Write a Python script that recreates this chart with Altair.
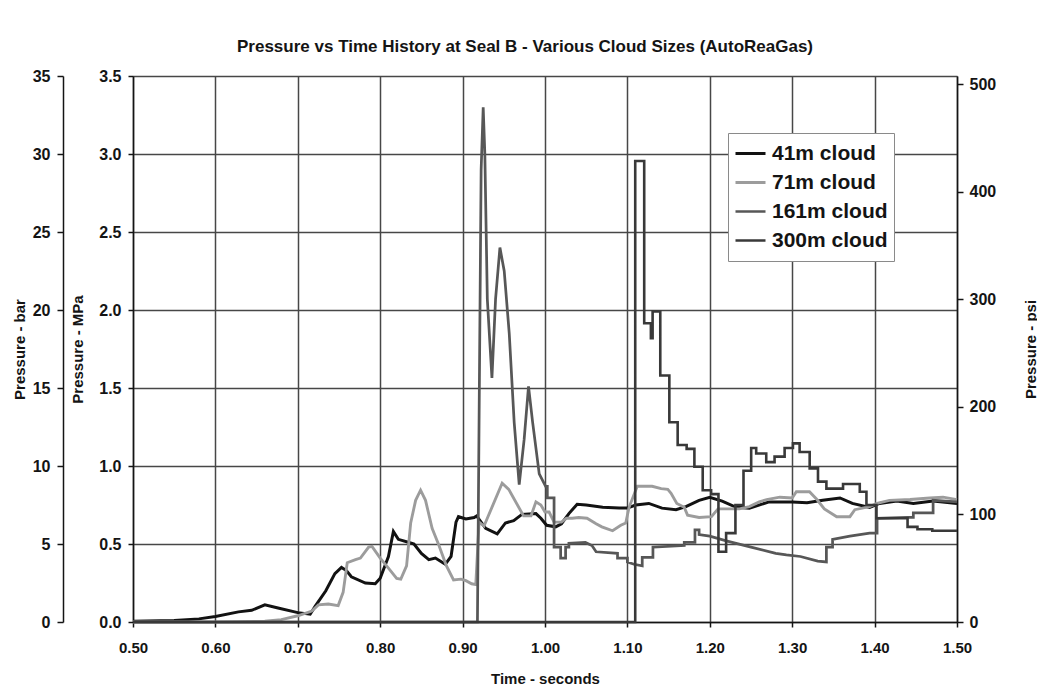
import altair as alt
import pandas as pd

# ---- series data: time (s) and pressure (MPa) ----
t41 = [0.50, 0.55, 0.58, 0.60, 0.628, 0.644, 0.66, 0.676, 0.70, 0.715, 0.721, 0.734, 0.745, 0.753,
       0.759, 0.765, 0.782, 0.794, 0.80, 0.81, 0.816, 0.822, 0.835, 0.841, 0.85, 0.859, 0.867, 0.879,
       0.886, 0.892, 0.895, 0.904, 0.914, 0.917, 0.928, 0.942, 0.952, 0.962, 0.972, 0.989, 0.995,
       1.002, 1.013, 1.02, 1.029, 1.039, 1.05, 1.07, 1.09, 1.10, 1.11, 1.126, 1.142, 1.159, 1.171,
       1.187, 1.20, 1.215, 1.232, 1.248, 1.272, 1.30, 1.318, 1.337, 1.358, 1.373, 1.394, 1.406,
       1.427, 1.447, 1.471, 1.50]
v41 = [0.005, 0.01, 0.02, 0.035, 0.065, 0.075, 0.11, 0.09, 0.06, 0.05, 0.10, 0.20, 0.31, 0.35,
       0.33, 0.29, 0.25, 0.245, 0.28, 0.42, 0.58, 0.53, 0.51, 0.50, 0.44, 0.40, 0.41, 0.37,
       0.42, 0.64, 0.675, 0.66, 0.67, 0.68, 0.60, 0.565, 0.635, 0.65, 0.69, 0.695, 0.665,
       0.62, 0.61, 0.63, 0.695, 0.755, 0.75, 0.735, 0.73, 0.73, 0.75, 0.76, 0.73, 0.72, 0.74,
       0.78, 0.80, 0.775, 0.735, 0.73, 0.77, 0.77, 0.765, 0.78, 0.795, 0.76, 0.735, 0.76,
       0.775, 0.76, 0.775, 0.76]

t71 = [0.50, 0.60, 0.66, 0.68, 0.70, 0.717, 0.725, 0.737, 0.749, 0.755, 0.76, 0.77, 0.776, 0.786,
       0.79, 0.80, 0.81, 0.82, 0.825, 0.832, 0.837, 0.843, 0.849, 0.855, 0.863, 0.871, 0.88, 0.889,
       0.898, 0.904, 0.911, 0.916, 0.92, 0.926, 0.948, 0.956, 0.974, 0.983, 0.989, 0.995, 1.0,
       1.005, 1.011, 1.02, 1.026, 1.033, 1.041, 1.051, 1.062, 1.069, 1.074, 1.082, 1.092, 1.098,
       1.102, 1.112, 1.13, 1.141, 1.149, 1.153, 1.16, 1.169, 1.173, 1.187, 1.202, 1.21, 1.224,
       1.236, 1.248, 1.26, 1.269, 1.285, 1.30, 1.305, 1.321, 1.33, 1.339, 1.354, 1.37, 1.376,
       1.394, 1.403, 1.418, 1.443, 1.467, 1.483, 1.50]
v71 = [0.0, 0.0, 0.005, 0.015, 0.04, 0.07, 0.11, 0.115, 0.105, 0.19, 0.38, 0.40, 0.41, 0.48,
       0.485, 0.41, 0.345, 0.28, 0.275, 0.36, 0.635, 0.78, 0.845, 0.78, 0.60, 0.495, 0.365, 0.27,
       0.275, 0.265, 0.245, 0.24, 0.64, 0.615, 0.89, 0.85, 0.68, 0.68, 0.77, 0.75, 0.705,
       0.705, 0.64, 0.64, 0.665, 0.665, 0.67, 0.665, 0.63, 0.61, 0.60, 0.585, 0.62, 0.635,
       0.735, 0.87, 0.87, 0.855, 0.85, 0.825, 0.76, 0.735, 0.685, 0.67, 0.675, 0.725, 0.725,
       0.725, 0.74, 0.77, 0.785, 0.80, 0.795, 0.835, 0.835, 0.785, 0.725, 0.675, 0.675, 0.72,
       0.74, 0.76, 0.78, 0.785, 0.795, 0.80, 0.785]

t161 = [0.50, 0.918, 0.9225, 0.925, 0.927, 0.930, 0.9356, 0.940, 0.9453, 0.9505, 0.9566, 0.9626,
        0.9687, 0.9747, 0.980, 0.985, 0.993, 1.0008, 1.0028, 1.0028, 1.011, 1.011, 1.019, 1.019,
        1.025, 1.025, 1.029, 1.029, 1.049, 1.057, 1.062, 1.088, 1.088, 1.100, 1.100, 1.108,
        1.118, 1.118, 1.131, 1.131, 1.169, 1.169, 1.182, 1.182, 1.187, 1.187, 1.200, 1.220,
        1.250, 1.280, 1.293, 1.310, 1.331, 1.3415, 1.3415, 1.349, 1.349, 1.370, 1.394, 1.403,
        1.403, 1.440, 1.447, 1.447, 1.471, 1.471, 1.500]
v161 = [0.0, 0.0, 2.9, 3.30, 3.0, 2.07, 1.565, 2.07, 2.40, 2.25, 1.85, 1.28,
        0.88, 1.17, 1.51, 1.28, 0.95, 0.87, 0.87, 0.795, 0.795, 0.48, 0.48, 0.41,
        0.41, 0.48, 0.48, 0.505, 0.51, 0.49, 0.45, 0.44, 0.41, 0.41, 0.385, 0.37,
        0.36, 0.415, 0.415, 0.48, 0.49, 0.51, 0.51, 0.59, 0.59, 0.56, 0.55, 0.52,
        0.48, 0.44, 0.43, 0.42, 0.39, 0.385, 0.48, 0.48, 0.53, 0.55, 0.57, 0.57,
        0.665, 0.67, 0.67, 0.70, 0.70, 0.78, 0.77]

# 300m cloud: held levels, each starting at the given time
t300 = [0.50, 1.1095, 1.1204, 1.1285, 1.1306, 1.1399, 1.1509, 1.161, 1.1719, 1.1813, 1.1914,
        1.2016, 1.2105, 1.2198, 1.2311, 1.2409, 1.2502, 1.2563, 1.2685, 1.2786, 1.2908, 1.3009,
        1.309, 1.3212, 1.3313, 1.3415, 1.3617, 1.382, 1.3901, 1.4023, 1.440, 1.452, 1.470]
v300 = [0.0, 2.955, 1.915, 1.82, 1.99, 1.58, 1.28, 1.135, 1.11, 0.995, 0.845,
        0.82, 0.45, 0.57, 0.75, 0.97, 1.115, 1.08, 1.025, 1.06, 1.115, 1.145,
        1.09, 0.985, 0.90, 0.855, 0.885, 0.835, 0.75, 0.665, 0.61, 0.595, 0.585]
T_END = 1.50

series = ["41m cloud", "71m cloud", "161m cloud", "300m cloud"]
colors = ["#121212", "#9c9c9c", "#575757", "#393939"]
widths = [3.0, 2.6, 2.4, 2.4]

x_ticks = [0.50, 0.60, 0.70, 0.80, 0.90, 1.00, 1.10, 1.20, 1.30, 1.40, 1.50]
mpa_ticks = [0.0, 0.5, 1.0, 1.5, 2.0, 2.5, 3.0, 3.5]
bar_ticks = [0, 5, 10, 15, 20, 25, 30, 35]
psi_ticks = [0, 100, 200, 300, 400, 500]
PSI_PER_MPA = 145.038
MPA_MAX = 3.5

# ---- long table ----
rows = []
for name, ts, vs in [(series[0], t41, v41), (series[1], t71, v71), (series[2], t161, v161)]:
    for i, (t, v) in enumerate(zip(ts, vs)):
        rows.append({"series": name, "t": t, "mpa": v, "i": i})
k = 0
for j, (t, v) in enumerate(zip(t300, v300)):
    t_next = t300[j + 1] if j + 1 < len(t300) else T_END
    rows.append({"series": series[3], "t": t, "mpa": v, "i": k})
    rows.append({"series": series[3], "t": t_next, "mpa": v, "i": k + 1})
    k += 2
df = pd.DataFrame(rows)

FONT = "Liberation Sans"
INK = "#141414"
GRID = "#474747"
W, H = 824, 546

lines = alt.Chart(df).mark_line().encode(
    x=alt.X("t:Q",
            scale=alt.Scale(domain=[0.5, 1.5], nice=False, zero=False),
            axis=alt.Axis(values=x_ticks, format=".2f", title="Time - seconds",
                          grid=True, gridColor=GRID, gridWidth=1.5,
                          domainColor=INK, domainWidth=1.5, tickColor=INK, tickWidth=1.5,
                          tickSize=5, labelFont=FONT, labelFontSize=15, labelFontWeight="bold",
                          labelColor=INK, labelPadding=13, labelFlush=False,
                          titleFont=FONT, titleFontSize=15, titleFontWeight="bold",
                          titleColor=INK, titleY=56, titleBaseline="middle")),
    y=alt.Y("mpa:Q",
            scale=alt.Scale(domain=[0, MPA_MAX], nice=False),
            axis=alt.Axis(orient="left", values=mpa_ticks, format=".1f", title="Pressure - MPa",
                          grid=True, gridColor=GRID, gridWidth=1.5,
                          domainColor=INK, domainWidth=1.5, tickColor=INK, tickWidth=1.5,
                          tickSize=5, labelFont=FONT, labelFontSize=16, labelFontWeight="bold",
                          labelColor=INK, labelPadding=7, labelFlush=False,
                          titleFont=FONT, titleFontSize=15, titleFontWeight="bold",
                          titleColor=INK, titleX=-56, titleY=H / 2, titleAngle=270,
                          titleAlign="center", titleBaseline="middle")),
    color=alt.Color("series:N", scale=alt.Scale(domain=series, range=colors),
                    legend=alt.Legend(title=None, orient="none", legendX=595, legendY=57,
                                      direction="vertical", fillColor="white",
                                      strokeColor="#8a8a8a", padding=6,
                                      labelFont=FONT, labelFontSize=21, labelFontWeight="bold",
                                      labelColor=INK, labelOffset=5,
                                      symbolType="stroke", symbolStrokeWidth=3,
                                      symbolSize=900, rowPadding=0, clipHeight=29)),
    strokeWidth=alt.StrokeWidth("series:N", scale=alt.Scale(domain=series, range=widths),
                                legend=None),
    order=alt.Order("i:Q"),
)

# second left axis in bar (same span: 3.5 MPa = 35 bar)
bar_axis = alt.Chart(pd.DataFrame({"bar": bar_ticks})).mark_point(opacity=0, size=1).encode(
    y=alt.Y("bar:Q", scale=alt.Scale(domain=[0, MPA_MAX * 10], nice=False),
            axis=alt.Axis(orient="left", offset=70, values=bar_ticks, format="d",
                          title="Pressure - bar", grid=False,
                          domainColor=INK, domainWidth=1.5, tickColor=INK, tickWidth=1.5,
                          tickSize=6, labelFont=FONT, labelFontSize=16, labelFontWeight="bold",
                          labelColor=INK, labelPadding=7, labelFlush=False,
                          titleFont=FONT, titleFontSize=15, titleFontWeight="bold",
                          titleColor=INK, titleX=-44, titleY=H / 2, titleAngle=270,
                          titleAlign="center", titleBaseline="middle")),
)

# right axis in psi
psi_axis = alt.Chart(pd.DataFrame({"psi": psi_ticks})).mark_point(opacity=0, size=1).encode(
    y=alt.Y("psi:Q", scale=alt.Scale(domain=[0, MPA_MAX * PSI_PER_MPA], nice=False),
            axis=alt.Axis(orient="right", values=psi_ticks, format="d",
                          title="Pressure - psi", grid=False,
                          domainColor=INK, domainWidth=1.5, tickColor=INK, tickWidth=1.5,
                          tickSize=6, labelFont=FONT, labelFontSize=16, labelFontWeight="bold",
                          labelColor=INK, labelPadding=6, labelFlush=False,
                          titleFont=FONT, titleFontSize=15, titleFontWeight="bold",
                          titleColor=INK, titleX=73, titleY=H / 2, titleAngle=270,
                          titleAlign="center", titleBaseline="middle")),
)

chart = alt.layer(lines, bar_axis, psi_axis).resolve_scale(y="independent").properties(
    width=W, height=H,
    padding={"left": 133, "top": 76, "right": 80, "bottom": 68},
    autosize=alt.AutoSizeParams(type="none"),
    title=alt.TitleParams(
        text="Pressure vs Time History at Seal B - Various Cloud Sizes (AutoReaGas)",
        font=FONT, fontSize=17, fontWeight="bold", color=INK,
        anchor="middle", dx=-20, dy=15, offset=10, baseline="bottom"),
    background="white",
).configure_view(strokeWidth=0)

chart.save("out.html", embed_options={"renderer": "svg", "actions": False})
